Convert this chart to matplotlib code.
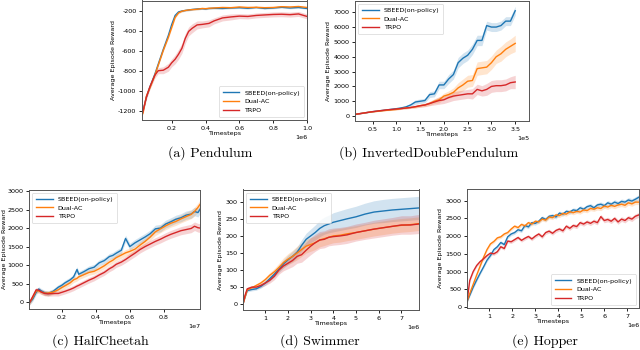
import matplotlib
matplotlib.use('Agg')
import matplotlib.pyplot as plt
import numpy as np

plt.rcParams['axes.unicode_minus'] = False

# ---------------- data ----------------
labels = ['SBEED(on-policy)', 'Dual-AC', 'TRPO']
colors = ['#1f77b4', '#ff7f0e', '#d62728']

# (a) Pendulum, x in 1e6 timesteps
pend_x = [0.02, 0.03, 0.05, 0.07, 0.1, 0.12, 0.15, 0.18, 0.2, 0.22, 0.24, 0.26, 0.28, 0.3, 0.32,
          0.35, 0.38, 0.4, 0.42, 0.45, 0.5, 0.55, 0.6, 0.65, 0.7, 0.75, 0.8, 0.85, 0.9, 0.95, 1.0]
pend_sbeed = [-1250, -1200, -1060, -960, -830, -730, -580, -440, -330, -240, -205, -195, -190, -185, -180,
              -175, -172, -175, -170, -168, -170, -165, -162, -168, -160, -170, -165, -158, -165, -160, -170]
pend_dual = [-1250, -1220, -1050, -970, -840, -740, -590, -460, -360, -260, -215, -198, -190, -185, -182,
             -178, -170, -172, -168, -165, -160, -162, -155, -160, -158, -162, -160, -152, -155, -150, -160]
pend_trpo = [-1250, -1200, -1060, -960, -840, -795, -790, -760, -715, -680, -630, -570, -470, -400, -370,
             -335, -330, -325, -320, -295, -265, -255, -247, -250, -240, -235, -230, -228, -232, -225, -250]
pend_sd = [10, 10, 12, 12, 12, 12, 12, 12, 12, 10, 8, 8, 8, 8, 8,
           8, 8, 8, 8, 8, 8, 8, 8, 8, 8, 8, 8, 8, 8, 8, 8]
pend_sd_trpo = [15, 20, 25, 25, 30, 30, 35, 40, 40, 45, 50, 50, 50, 45, 45,
                40, 35, 35, 35, 30, 30, 30, 25, 25, 25, 25, 25, 25, 25, 25, 25]

# (b) InvertedDoublePendulum, x in 1e5 timesteps
idp_x = [0.1, 0.2, 0.3, 0.4, 0.5, 0.6, 0.7, 0.8, 0.9, 1.0, 1.1, 1.2, 1.3, 1.4, 1.5, 1.6, 1.7, 1.8,
         1.9, 2.0, 2.1, 2.2, 2.3, 2.4, 2.5, 2.6, 2.7, 2.8, 2.9, 3.0, 3.1, 3.2, 3.3, 3.4, 3.5]
idp_sbeed = [100, 150, 200, 250, 300, 340, 380, 420, 460, 500, 550, 620, 750, 950, 1000, 1050, 1450, 1500,
             2100, 2100, 2500, 2800, 3600, 3900, 4100, 4500, 5100, 5100, 6100, 6000, 6000, 6100, 6400, 6400, 7100]
idp_dual = [100, 150, 200, 250, 290, 320, 360, 390, 420, 450, 500, 550, 580, 620, 700, 750, 850, 1000,
            1100, 1350, 1450, 1600, 1900, 2100, 2350, 2400, 3200, 3250, 3300, 3600, 4000, 4200, 4500, 4700, 4900]
idp_trpo = [100, 150, 200, 250, 300, 340, 380, 420, 450, 480, 510, 540, 580, 640, 700, 750, 850, 950,
            1050, 1100, 1250, 1350, 1400, 1450, 1500, 1500, 1800, 1700, 1800, 2000, 2050, 2050, 2100, 2250, 2300]
idp_sd_sbeed = [20, 20, 20, 20, 20, 20, 30, 30, 40, 50, 60, 80, 100, 150, 150, 150, 200, 200,
                250, 250, 300, 300, 350, 350, 350, 350, 350, 350, 300, 300, 300, 300, 300, 300, 300]
idp_sd_dual = [20, 20, 20, 20, 20, 20, 30, 30, 40, 50, 50, 60, 60, 80, 100, 100, 120, 150,
               200, 200, 250, 300, 350, 400, 400, 400, 450, 450, 450, 450, 450, 500, 500, 500, 550]
idp_sd_trpo = [20, 20, 20, 20, 20, 20, 30, 30, 40, 50, 50, 60, 60, 80, 100, 120, 150, 200,
               250, 250, 300, 300, 300, 300, 300, 350, 350, 350, 400, 400, 400, 400, 400, 400, 450]

# (c) HalfCheetah, x in 1e7 timesteps
hc_x = [0.008, 0.03, 0.05, 0.065, 0.08, 0.1, 0.12, 0.15, 0.18, 0.2, 0.22, 0.25, 0.27, 0.29, 0.3, 0.33,
        0.36, 0.39, 0.42, 0.45, 0.48, 0.5, 0.52, 0.55, 0.575, 0.6, 0.63, 0.66, 0.69, 0.72, 0.75, 0.78,
        0.81, 0.84, 0.87, 0.9, 0.93, 0.96, 0.98, 1.0, 1.015]
hc_sbeed = [-40, 80, 260, 350, 300, 250, 230, 290, 400, 450, 520, 600, 680, 880, 750, 820,
            900, 940, 1060, 1120, 1230, 1260, 1320, 1400, 1720, 1500, 1600, 1680, 1760, 1850, 1980, 2000,
            2110, 2170, 2240, 2280, 2350, 2380, 2450, 2420, 2530]
hc_dual = [-40, 120, 300, 300, 270, 240, 240, 270, 330, 390, 440, 520, 600, 640, 680, 740,
           800, 830, 900, 980, 1080, 1130, 1200, 1270, 1330, 1370, 1430, 1540, 1640, 1760, 1900, 1980,
           2060, 2130, 2180, 2250, 2310, 2370, 2450, 2560, 2660]
hc_trpo = [-40, 150, 330, 320, 270, 230, 220, 230, 230, 260, 290, 340, 380, 430, 450, 520,
           590, 650, 730, 800, 900, 950, 1020, 1080, 1150, 1230, 1320, 1420, 1500, 1570, 1640, 1700,
           1770, 1830, 1880, 1930, 1960, 1990, 2050, 2010, 2000]
hc_sd = [60, 70, 80, 100, 120]

# (d) Swimmer, x in 1e6 timesteps
sw_x = [0.015, 0.1, 0.2, 0.4, 0.6, 0.8, 1.0, 1.2, 1.4, 1.6, 1.8, 2.0, 2.2, 2.4, 2.6, 2.8,
        3.0, 3.2, 3.4, 3.6, 3.8, 4.0, 4.3, 4.6, 5.0, 5.4, 5.8, 6.2, 6.6, 7.0, 7.4, 7.78]
sw_sbeed = [0, 20, 40, 43, 45, 52, 62, 75, 88, 103, 118, 130, 140, 152, 172, 190,
            200, 210, 222, 230, 235, 240, 245, 250, 256, 264, 270, 273, 276, 278, 280, 282]
sw_dual = [0, 20, 42, 48, 55, 62, 72, 85, 95, 108, 122, 132, 140, 150, 160, 170,
           175, 180, 188, 192, 196, 200, 202, 206, 210, 215, 220, 224, 228, 231, 233, 236]
sw_trpo = [0, 25, 45, 50, 50, 55, 62, 70, 82, 100, 112, 120, 128, 140, 145, 158,
           170, 180, 188, 190, 196, 198, 200, 203, 210, 215, 220, 224, 228, 232, 232, 235]
sw_sd_sbeed = [0, 3, 4, 4, 4, 5, 6, 7, 8, 10, 12, 14, 15, 16, 17, 18,
               20, 22, 24, 25, 26, 28, 29, 30, 31, 32, 33, 34, 34, 34, 34, 34]
sw_sd_dual = [0, 3, 4, 4, 5, 6, 7, 8, 10, 12, 14, 16, 18, 20, 20, 20,
              20, 20, 20, 20, 20, 20, 20, 20, 20, 20, 20, 20, 20, 20, 20, 20]
sw_sd_trpo = [0, 3, 4, 4, 5, 6, 7, 8, 10, 12, 14, 16, 18, 20, 22, 24,
              25, 25, 25, 25, 25, 25, 25, 25, 25, 25, 26, 26, 26, 27, 27, 28]

# (e) Hopper, x in 1e6 timesteps
hop_x = [0.03, 0.15, 0.3, 0.45, 0.6, 0.75, 0.9, 1.05, 1.2, 1.35,
         1.5, 1.65, 1.8, 1.95, 2.1, 2.25, 2.4, 2.55, 2.7, 2.85,
         3.0, 3.15, 3.3, 3.45, 3.6, 3.75, 3.9, 4.05, 4.2, 4.35,
         4.5, 4.65, 4.8, 4.95, 5.1, 5.25, 5.4, 5.55, 5.7, 5.85,
         6.0, 6.15, 6.3, 6.45, 6.6, 6.75, 6.9, 7.05, 7.2, 7.35, 7.51]
hop_sbeed = [150, 330, 560, 760, 950, 1130, 1320, 1450, 1620, 1700,
             1820, 1760, 1980, 2060, 2100, 2180, 2150, 2300, 2260, 2380,
             2360, 2420, 2520, 2470, 2560, 2580, 2540, 2650, 2620, 2700,
             2680, 2740, 2720, 2800, 2760, 2830, 2860, 2800, 2880, 2900,
             2860, 2940, 2900, 2960, 2920, 2980, 2960, 3020, 2990, 3040, 3100]
hop_dual = [150, 380, 640, 900, 1150, 1400, 1620, 1780, 1850, 1950,
            1980, 2060, 2100, 2200, 2280, 2240, 2330, 2290, 2380, 2340,
            2420, 2400, 2480, 2450, 2540, 2520, 2600, 2580, 2640, 2620,
            2690, 2660, 2700, 2680, 2740, 2720, 2780, 2760, 2800, 2780,
            2850, 2820, 2870, 2840, 2880, 2900, 2870, 2940, 2910, 2960, 2960]
hop_trpo = [150, 750, 1000, 1170, 1280, 1360, 1450, 1520, 1500, 1560,
            1700, 1650, 1860, 1840, 1900, 1960, 1880, 1940, 1990, 1920,
            2000, 2060, 1980, 2100, 2140, 2080, 2160, 2200, 2150, 2280,
            2220, 2300, 2270, 2380, 2340, 2400, 2360, 2420, 2380, 2550,
            2440, 2470, 2420, 2500, 2400, 2480, 2440, 2520, 2480, 2560, 2600]
hop_sd = [40, 50, 60, 70]

FS = 4.6


def band(ax, x, y, sd, color, scale):
    x = np.asarray(x) * scale
    y = np.asarray(y, dtype=float)
    sd = np.asarray(sd, dtype=float)
    if sd.size != y.size:
        sd = np.interp(np.linspace(0, 1, y.size), np.linspace(0, 1, sd.size), sd)
    ax.fill_between(x, y - sd, y + sd, color=color, alpha=0.2, lw=0)
    line, = ax.plot(x, y, color=color, lw=1.0)
    return line


def style(ax, lines, xlim, ylim, xticks, yticks, power, loc):
    scale = 10 ** power
    ax.set_xlim(xlim[0] * scale, xlim[1] * scale)
    ax.set_ylim(*ylim)
    ax.set_xticks([t * scale for t in xticks])
    ax.set_yticks(yticks)
    ax.ticklabel_format(axis='x', style='sci', scilimits=(power, power))
    ax.tick_params(labelsize=FS, length=2.5, width=0.6, pad=1.5)
    ax.xaxis.get_offset_text().set_fontsize(FS)
    for s in ax.spines.values():
        s.set_linewidth(0.7)
        s.set_color('#555555')
    ax.set_xlabel('Timesteps', fontsize=FS, labelpad=0.5)
    ax.set_ylabel('Average Episode Reward', fontsize=FS, labelpad=1.5)
    leg = ax.legend(lines, labels, loc=loc, fontsize=FS, frameon=True, borderpad=0.6,
                    handlelength=2.6, labelspacing=0.5, fancybox=True)
    leg.get_frame().set_linewidth(0.5)


def rect(l, t, r, b):
    return [l / 640, (350 - b) / 350, (r - l) / 640, (b - t) / 350]


fig = plt.figure(figsize=(6.4, 3.5), dpi=100)

# (a) Pendulum
ax = fig.add_axes(rect(142, 0.5, 307, 120))
lines = [band(ax, pend_x, pend_sbeed, pend_sd, colors[0], 1e6),
         band(ax, pend_x, pend_dual, pend_sd, colors[1], 1e6),
         band(ax, pend_x, pend_trpo, pend_sd_trpo, colors[2], 1e6)]
style(ax, lines, (0.024, 1.0), (-1290, -90), [0.2, 0.4, 0.6, 0.8, 1.0],
      [-1200, -1000, -800, -600, -400, -200], 6, 'lower right')

# (b) InvertedDoublePendulum
ax = fig.add_axes(rect(355, 0.5, 529, 121))
lines = [band(ax, idp_x, idp_sbeed, idp_sd_sbeed, colors[0], 1e5),
         band(ax, idp_x, idp_dual, idp_sd_dual, colors[1], 1e5),
         band(ax, idp_x, idp_trpo, idp_sd_trpo, colors[2], 1e5)]
style(ax, lines, (0.13, 3.79), (-330, 7790), [0.5, 1.0, 1.5, 2.0, 2.5, 3.0, 3.5],
      [0, 1000, 2000, 3000, 4000, 5000, 6000, 7000], 5, 'upper left')

# (c) HalfCheetah
ax = fig.add_axes(rect(29, 189.5, 200.5, 309))
lines = [band(ax, hc_x, hc_sbeed, hc_sd, colors[0], 1e7),
         band(ax, hc_x, hc_dual, hc_sd, colors[1], 1e7),
         band(ax, hc_x, hc_trpo, hc_sd, colors[2], 1e7)]
style(ax, lines, (0.008, 1.015), (-190, 3045), [0.2, 0.4, 0.6, 0.8],
      [0, 500, 1000, 1500, 2000, 2500, 3000], 7, 'upper left')
ax.yaxis.labelpad = 0.5

# (d) Swimmer
ax = fig.add_axes(rect(243, 189.5, 419, 310))
lines = [band(ax, sw_x, sw_sbeed, sw_sd_sbeed, colors[0], 1e6),
         band(ax, sw_x, sw_dual, sw_sd_dual, colors[1], 1e6),
         band(ax, sw_x, sw_trpo, sw_sd_trpo, colors[2], 1e6)]
style(ax, lines, (0.015, 7.78), (-17, 336), [1, 2, 3, 4, 5, 6, 7],
      [0, 50, 100, 150, 200, 250, 300], 6, 'upper left')

# (e) Hopper
ax = fig.add_axes(rect(467, 189, 639, 308))
lines = [band(ax, hop_x, hop_sbeed, hop_sd, colors[0], 1e6),
         band(ax, hop_x, hop_dual, hop_sd, colors[1], 1e6),
         band(ax, hop_x, hop_trpo, hop_sd, colors[2], 1e6)]
style(ax, lines, (0.03, 7.51), (-30, 3330), [1, 2, 3, 4, 5, 6, 7],
      [0, 500, 1000, 1500, 2000, 2500, 3000], 6, 'lower right')

# captions
captions = ['(a) Pendulum', '(b) InvertedDoublePendulum', '(c) HalfCheetah', '(d) Swimmer', '(e) Hopper']
cap_pos = [(210, 153), (429, 153), (100, 341), (320, 341), (545, 341)]
for txt, (cx, cy) in zip(captions, cap_pos):
    fig.text(cx / 640, 1 - cy / 350, txt, fontsize=10, family='cmr10', ha='center', va='center')

fig.savefig('out.png', dpi=100)
